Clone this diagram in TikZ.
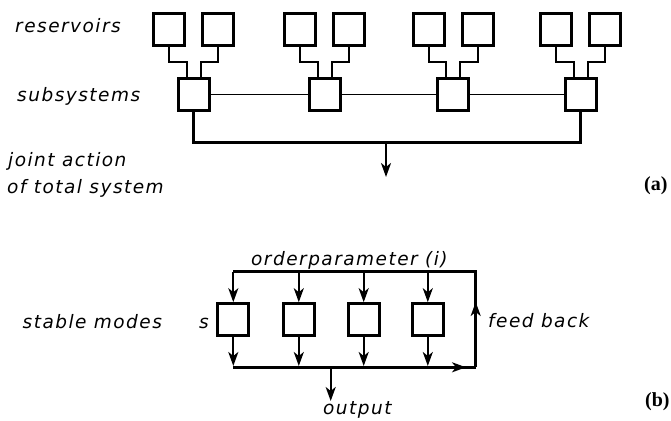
\documentclass[tikz,border=0pt]{standalone}
\usepackage{fontspec}
\setmainfont{DejaVu Sans}[LetterSpace=8]
\newfontfamily\tagfont{Liberation Serif}
\usetikzlibrary{arrows.meta}

\tikzset{
  blk/.style={draw, rectangle, line width=3pt, minimum width=31pt, minimum height=32pt, inner sep=0pt},
  feed/.style={line width=2pt},
  link/.style={line width=1.1pt},
  bus/.style={line width=3pt},
  flow/.style={line width=2.2pt, -{Stealth[length=14pt,width=10pt,inset=4pt]}},
  lbl/.style={anchor=base west, inner sep=0pt, font=\fontsize{18.5}{22}\selectfont\itshape},
  tag/.style={anchor=base west, inner sep=0pt, font=\fontsize{20}{24}\selectfont\tagfont\bfseries}
}

\begin{document}
\begin{tikzpicture}[x=1pt, y=-1pt]
\useasboundingbox (0,0) rectangle (671,420);

% ---------------- (a) reservoirs, subsystems, joint action
\foreach \i/\cx in {1/193.7, 2/324.5, 3/453, 4/580.8} {
  \node[blk] (s\i) at (\cx,94.3) {};
  \node[blk] (r\i a) at (\cx-24.5,29.7) {};
  \node[blk] (r\i b) at (\cx+24.5,29.7) {};
  \draw[feed] (r\i a.south) -- ++(0,15) -| ([xshift=-7pt]s\i.north);
  \draw[feed] (r\i b.south) -- ++(0,15) -| ([xshift=7pt]s\i.north);
}
\draw[link] (s1.east) -- (s2.west);
\draw[link] (s2.east) -- (s3.west);
\draw[link] (s3.east) -- (s4.west);

\coordinate (jl) at (193.7,142.7);
\coordinate (jr) at (580.8,142.7);
\coordinate (jm) at (386,142.7);
\coordinate (jo) at (386,177);
\draw[bus] (s1.south) -- (jl) -- (jr) -- (s4.south);
\draw[flow] (jm) -- (jo);

\node[lbl] (treservoirs) at (15,33) {reservoirs};
\node[lbl] (tsubsystems) at (17,101) {subsystems};
\node[lbl] (tjoint) at (8,166.5) {joint action};
\node[lbl] (ttotal) at (7,193) {of total system};
\node[tag] (ta) at (644,190) {(a)};

% ---------------- (b) stable modes with order parameter feed back
\coordinate (tl) at (233.3,271.7);
\coordinate (tr) at (475.7,271.7);
\coordinate (bl) at (233.3,367.3);
\coordinate (br) at (475.7,367.3);
\foreach \i/\cx in {1/233.3, 2/298.8, 3/363.7, 4/427.8} {
  \node[blk] (m\i) at (\cx,319.7) {};
  \draw[flow] (\cx,271.7) -- (m\i.north);
  \draw[flow] (m\i.south) -- (\cx,366);
}
\draw[bus] (br) -- (tr) -- (tl);
\draw[bus] (bl) -- (br);
\coordinate (fbup) at (475.7,302);
\coordinate (fbright) at (466,367.3);
\draw[flow] (475.7,330) -- (fbup);
\draw[flow] (440,367.3) -- (fbright);
\coordinate (om) at (330.7,367.3);
\coordinate (oo) at (330.7,401);
\draw[flow] (om) -- (oo);

\node[lbl] (tstable) at (22.5,328.5) {stable modes};
\node[lbl] (ts) at (199,328.5) {s};
\node[lbl] (torder) at (251,265) {orderparameter (i)};
\node[lbl] (tfeed) at (488,327.5) {feed back};
\node[lbl] (tout) at (323,414.5) {output};
\node[tag] (tb) at (645,406) {(b)};
\end{tikzpicture}
\end{document}
